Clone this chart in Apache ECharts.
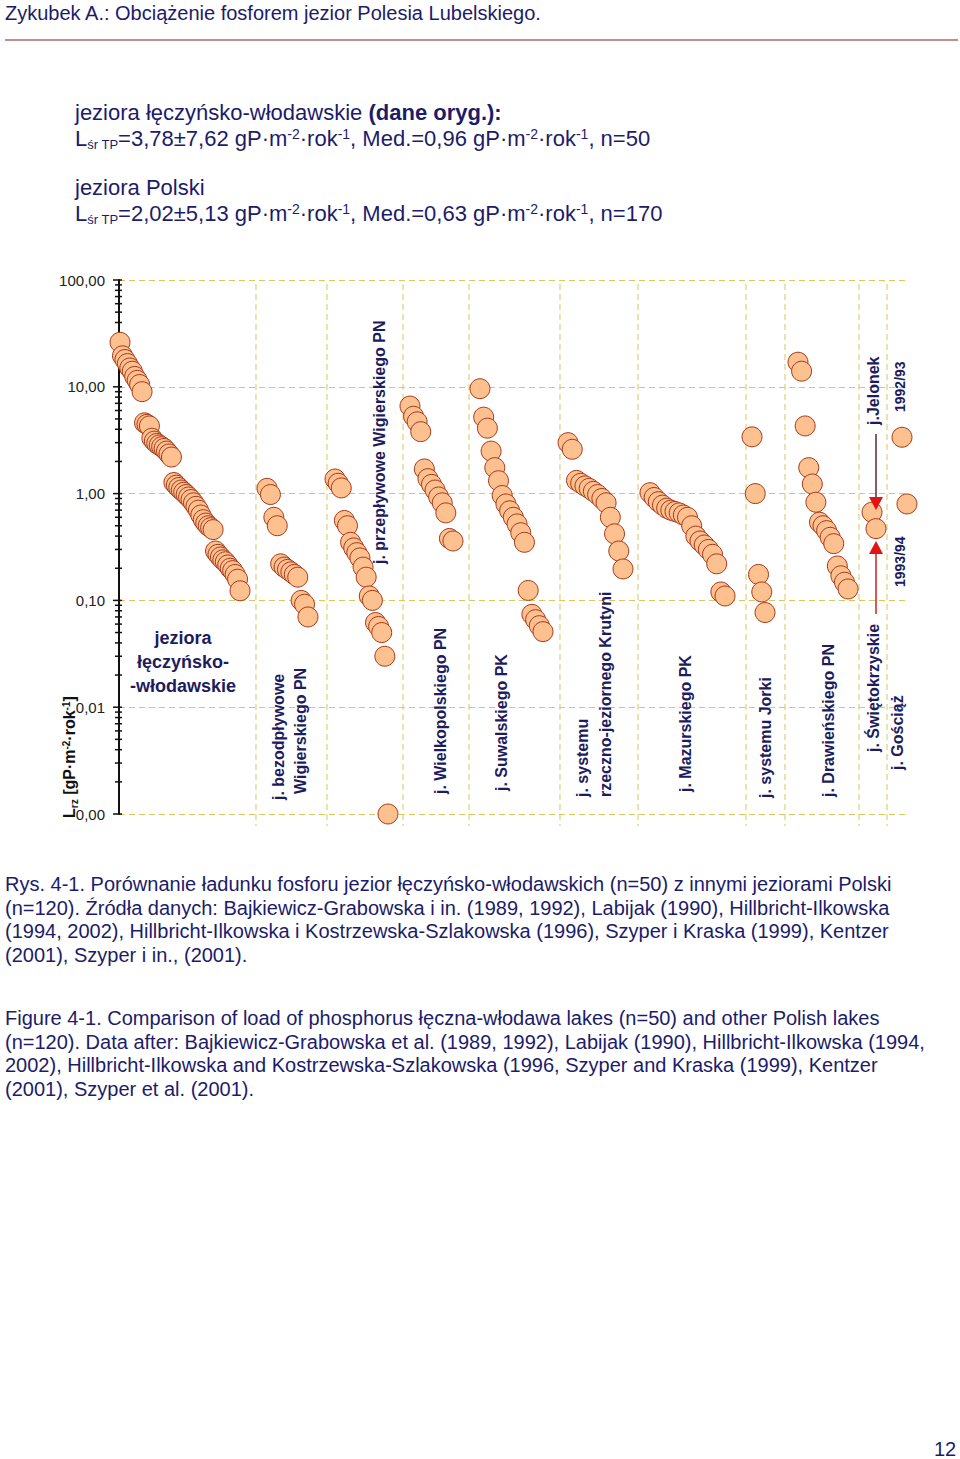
<!DOCTYPE html>
<html>
<head>
<meta charset="utf-8">
<script src="https://cdn.jsdelivr.net/npm/echarts@6/dist/echarts.min.js"></script>
<style>
html,body{margin:0;padding:0;background:#fff;}
#page{position:relative;width:960px;height:1459px;overflow:hidden;font-family:"Liberation Sans",Arial,sans-serif;color:#1c1c6a;}
#chart{position:absolute;left:0;top:0;width:960px;height:1459px;}
.t{position:absolute;white-space:nowrap;}
.st{font-size:22px;line-height:24px;}
.st sup{font-size:14px;vertical-align:7px;line-height:0;}
.st sub{font-size:13px;vertical-align:-3px;line-height:0;}
.cap{font-size:20px;line-height:23.5px;}
</style>
</head>
<body>
<div id="page">
<div id="chart"></div>
<div class="t" style="left:5px;top:2px;font-size:20px;line-height:22px;">Zykubek A.: Obciążenie fosforem jezior Polesia Lubelskiego.</div>
<div style="position:absolute;left:5px;top:39px;width:953px;height:2px;background:#c48c8c;"></div>

<div class="t st" style="left:75px;top:101px;">jeziora łęczyńsko-włodawskie <b>(dane oryg.):</b></div>
<div class="t st" style="left:75px;top:127px;">L<sub>śr TP</sub>=3,78±7,62 gP·m<sup>-2</sup>·rok<sup>-1</sup>, Med.=0,96 gP·m<sup>-2</sup>·rok<sup>-1</sup>, n=50</div>
<div class="t st" style="left:75px;top:176px;">jeziora Polski</div>
<div class="t st" style="left:75px;top:202px;">L<sub>śr TP</sub>=2,02±5,13 gP·m<sup>-2</sup>·rok<sup>-1</sup>, Med.=0,63 gP·m<sup>-2</sup>·rok<sup>-1</sup>, n=170</div>

<div class="t" style="left:61px;top:818px;transform:rotate(-90deg);transform-origin:left top;font-weight:bold;font-size:16px;line-height:18px;color:#111;">L<sub style="font-size:10px;vertical-align:-3px;line-height:0;">rz</sub> [gP·m<sup style="font-size:10px;vertical-align:5px;line-height:0;">-2</sup>·rok<sup style="font-size:10px;vertical-align:5px;line-height:0;">-1</sup>]</div>

<div class="t cap" style="left:5px;top:873px;">Rys. 4-1. Porównanie ładunku fosforu jezior łęczyńsko-włodawskich (n=50) z innymi jeziorami Polski<br>(n=120). Źródła danych: Bajkiewicz-Grabowska i in. (1989, 1992), Labijak (1990), Hillbricht-Ilkowska<br>(1994, 2002), Hillbricht-Ilkowska i Kostrzewska-Szlakowska (1996), Szyper i Kraska (1999), Kentzer<br>(2001), Szyper i in., (2001).</div>
<div class="t cap" style="left:5px;top:1007px;">Figure 4-1. Comparison of load of phosphorus łęczna-włodawa lakes (n=50) and other Polish lakes<br>(n=120). Data after: Bajkiewicz-Grabowska et al. (1989, 1992), Labijak (1990), Hillbricht-Ilkowska (1994,<br>2002), Hillbricht-Ilkowska and Kostrzewska-Szlakowska (1996, Szyper and Kraska (1999), Kentzer<br>(2001), Szyper et al. (2001).</div>
<div class="t" style="left:934px;top:1441px;font-size:20px;line-height:16px;">12</div>
</div>

<script>
// ---------------- DATA ----------------
const yTickLabels = ['0,00', '0,01', '0,10', '1,00', '10,00', '100,00'];

const groupNames = [
  'jeziora łęczyńsko-włodawskie',
  'j. bezodpływowe Wigierskiego PN',
  'j. przepływowe Wigierskiego PN',
  'j. Wielkopolskiego PN',
  'j. Suwalskiego PK',
  'j. systemu rzeczno-jeziornego Krutyni',
  'j. Mazurskiego PK',
  'j. systemu Jorki',
  'j. Drawieńskiego PN',
  'j. Świętokrzyskie (j. Jelonek)',
  'j. Gościąż'
];

const leczynskoWlodawskie = [26.1, 19.5, 18.0, 16.5, 15.0, 14.0, 12.5, 11.5, 10.5, 9.0,
  4.6, 4.45, 4.3, 3.3, 3.1, 2.95, 2.85, 2.75, 2.65, 2.5, 2.35, 2.2,
  1.27, 1.2, 1.14, 1.08, 1.03, 0.98, 0.93, 0.88, 0.82, 0.76, 0.70, 0.63, 0.57, 0.53, 0.50, 0.48, 0.46,
  0.29, 0.27, 0.255, 0.24, 0.23, 0.215, 0.20, 0.19, 0.175, 0.158, 0.123];
const bezodplywoweWigry = [1.12, 0.98, 0.60, 0.50, 0.22, 0.205, 0.195, 0.185, 0.175, 0.165, 0.10, 0.092, 0.070];
const przeplywoweWigry = [1.37, 1.25, 1.13, 0.56, 0.50, 0.35, 0.31, 0.28, 0.25, 0.205, 0.165, 0.11, 0.10, 0.062, 0.057, 0.050, 0.030, 0.001];
const wielkopolski = [6.6, 5.3, 4.7, 3.8, 1.7, 1.38, 1.22, 1.08, 0.93, 0.82, 0.66, 0.38, 0.36];
const suwalski = [9.6, 5.2, 4.1, 2.5, 1.75, 1.32, 0.96, 0.80, 0.69, 0.60, 0.52, 0.43, 0.35, 0.124, 0.074, 0.066, 0.058, 0.051];
const krutynia = [3.0, 2.6, 1.33, 1.25, 1.18, 1.12, 1.05, 0.98, 0.90, 0.82, 0.60, 0.42, 0.29, 0.197];
const mazurski = [1.02, 0.92, 0.84, 0.78, 0.73, 0.70, 0.68, 0.66, 0.63, 0.60, 0.50, 0.40, 0.36, 0.33, 0.30, 0.27, 0.22, 0.12, 0.11];
const jorka = [3.4, 1.0, 0.175, 0.12, 0.077];
const drawienski = [17, 14, 4.3, 1.75, 1.23, 0.83, 0.54, 0.50, 0.45, 0.39, 0.34, 0.21, 0.17, 0.148, 0.128];
const swietokrzyskieJelonek = [0.67, 0.47];
const gosciaz = [3.37, 0.80];

const lakeValues = [leczynskoWlodawskie, bezodplywoweWigry, przeplywoweWigry, wielkopolski, suwalski,
  krutynia, mazurski, jorka, drawienski, swietokrzyskieJelonek, gosciaz];

// ---------------- LAYOUT (x axis units 0..100) ----------------
const groupSpan = [[0.13, 15.34], [18.76, 23.95], [27.38, 34.09], [36.88, 42.33], [45.75, 53.74],
  [56.91, 63.88], [67.30, 76.81], [80.23, 81.88], [86.06, 92.40], [95.44, 95.94], [99.24, 99.87]];
const groupBounds = [17.36, 26.36, 36.0, 44.36, 55.89, 65.78, 79.47, 84.41, 93.79, 97.34];
const minorSteps = [2, 3, 4, 5, 6, 7, 8, 9];

// ---------------- BUILD ----------------
const points = [];
lakeValues.forEach((vals, g) => {
  const [a, b] = groupSpan[g];
  const n = vals.length;
  vals.forEach((v, i) => {
    const x = n > 1 ? a + (b - a) * i / (n - 1) : a;
    points.push({ value: [x, v], name: groupNames[g] });
  });
});

const tickData = [];
for (let e = -3; e <= 2; e++) {
  tickData.push([0, Math.pow(10, e), 1]);
  if (e < 2) minorSteps.forEach(m => tickData.push([0, m * Math.pow(10, e), 0]));
}

const NAVY = '#1c1c5e';
const GRIDC = '#d9c85a';
const LF = 'bold 16px "Liberation Sans", Arial, sans-serif';

function vLabel(text, x, yStart, font) {
  return { type: 'text', x: x, y: yStart, rotation: Math.PI / 2, z: 50,
    style: { text: text, font: font || LF, fill: NAVY, textAlign: 'left', textVerticalAlign: 'middle' } };
}

const chart = echarts.init(document.getElementById('chart'), null, { renderer: 'svg' });
chart.setOption({
  animation: false,
  grid: { left: 119, top: 280, width: 789, height: 534 },
  xAxis: { type: 'value', min: 0, max: 100, show: false },
  yAxis: {
    type: 'log', logBase: 10, min: 0.001, max: 100, splitNumber: 5,
    axisLine: { show: true, lineStyle: { color: '#111', width: 2 } },
    axisTick: { show: false },
    axisLabel: {
      color: '#222', fontSize: 15, margin: 14, fontFamily: '"Liberation Sans", Arial, sans-serif',
      formatter: v => yTickLabels[Math.round(Math.log10(v)) + 3]
    },
    splitLine: { show: true, lineStyle: { color: GRIDC, type: [6, 4], width: 1 } }
  },
  series: [
    {
      type: 'custom', silent: true, clip: false, z: 1,
      data: groupBounds.map(b => [b, 1]),
      encode: { x: 0, y: 1 },
      renderItem: (params, api) => {
        const t = api.coord([api.value(0), 100]);
        const btm = api.coord([api.value(0), 0.001]);
        return { type: 'line', shape: { x1: t[0], y1: t[1] + 4, x2: t[0], y2: btm[1] + 12 },
          style: { stroke: GRIDC, lineWidth: 1, lineDash: [6, 4] } };
      }
    },
    {
      type: 'custom', silent: true, clip: false, z: 3,
      data: tickData,
      encode: { x: 0, y: 1 },
      renderItem: (params, api) => {
        const p = api.coord([0, api.value(1)]);
        const major = api.value(2) === 1;
        return { type: 'line', shape: { x1: p[0] - (major ? 6 : 4), y1: p[1], x2: p[0] + 3, y2: p[1] },
          style: { stroke: '#111', lineWidth: 1.5 } };
      }
    },
    {
      type: 'scatter', z: 5, clip: false,
      symbol: 'circle', symbolSize: 20,
      itemStyle: { color: '#fdc08f', borderColor: '#a8381a', borderWidth: 1, opacity: 1 },
      data: points
    }
  ],
  graphic: [
    { type: 'text', x: 183, y: 662, z: 50,
      style: { text: 'jeziora\nłęczyńsko-\n-włodawskie', font: 'bold 18px "Liberation Sans", Arial, sans-serif',
        lineHeight: 24, fill: NAVY, textAlign: 'center', textVerticalAlign: 'middle' } },
    vLabel('j. bezodpływowe', 278, 800),
    vLabel('Wigierskiego PN', 300, 794),
    vLabel('j. przepływowe Wigierskiego PN', 379, 564),
    vLabel('j. Wielkopolskiego PN', 440, 794),
    vLabel('j. Suwalskiego PK', 501, 791),
    vLabel('j. systemu', 582, 797),
    vLabel('rzeczno-jeziornego Krutyni', 605, 797),
    vLabel('j. Mazurskiego PK', 685, 792),
    vLabel('j. systemu Jorki', 765, 798),
    vLabel('j. Drawieńskiego PN', 828, 797),
    vLabel('j. Świętokrzyskie', 873, 752),
    vLabel('j. Gościąż', 897, 770),
    vLabel('j.Jelonek', 873, 425),
    vLabel('1992/93', 900, 412, 'bold 14px "Liberation Sans", Arial, sans-serif'),
    vLabel('1993/94', 900, 587, 'bold 14px "Liberation Sans", Arial, sans-serif'),
    { type: 'line', z: 40, shape: { x1: 876, y1: 434, x2: 876, y2: 498 }, style: { stroke: '#5a2a2a', lineWidth: 1.5 } },
    { type: 'polygon', z: 40, shape: { points: [[869, 497], [883, 497], [876, 510]] }, style: { fill: '#e01414' } },
    { type: 'polygon', z: 40, shape: { points: [[876, 541], [869, 554], [883, 554]] }, style: { fill: '#e01414' } },
    { type: 'line', z: 40, shape: { x1: 876, y1: 554, x2: 876, y2: 614 }, style: { stroke: '#cc2222', lineWidth: 1.5 } }
  ]
});
</script>
</body>
</html>
